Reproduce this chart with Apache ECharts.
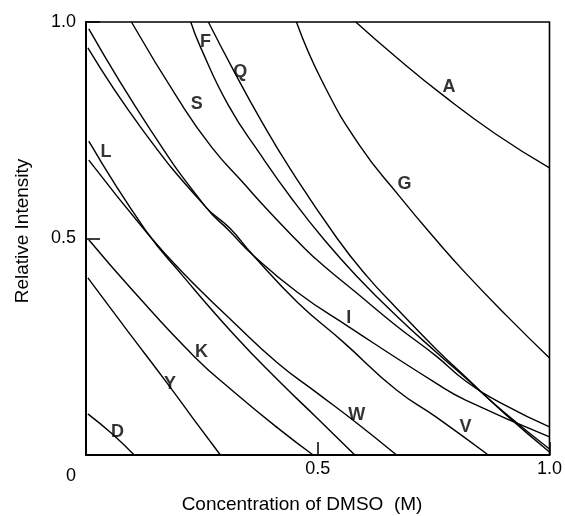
<!DOCTYPE html>
<html>
<head>
<meta charset="utf-8">
<script src="https://cdn.jsdelivr.net/npm/echarts@6/dist/echarts.min.js"></script>
<style>
html,body{margin:0;padding:0;background:#fff;}
#c{width:565px;height:516px;}
</style>
</head>
<body>
<div id="c"></div>
<script>
// Curves: [concentration (M), relative intensity]
const curveA = [[0.582,1.0],[0.670,0.918],[0.770,0.831],[0.883,0.742],[1.0,0.663]];
const curveG = [[0.454,1.0],[0.510,0.862],[0.591,0.714],[0.676,0.598],[0.755,0.497],[0.819,0.420],[0.910,0.319],[1.0,0.224]];
const curveQ = [[0.264,1.0],[0.318,0.889],[0.377,0.774],[0.441,0.660],[0.542,0.500],[0.606,0.413],[0.670,0.339],[0.755,0.245],[0.819,0.180],[0.904,0.095],[1.0,0.007]];
const curveF = [[0.226,1.0],[0.247,0.942],[0.307,0.808],[0.377,0.693],[0.446,0.589],[0.514,0.497],[0.584,0.413],[0.670,0.321],[0.755,0.238],[0.819,0.178],[0.904,0.097],[1.0,0.014]];
const curveS = [[0.098,1.0],[0.200,0.820],[0.271,0.711],[0.343,0.624],[0.392,0.566],[0.473,0.476],[0.514,0.436],[0.584,0.374],[0.670,0.298],[0.755,0.229],[0.819,0.171],[0.904,0.115],[1.0,0.065]];
const curveI = [[0.006,0.984],[0.139,0.751],[0.258,0.573],[0.310,0.517],[0.360,0.462],[0.456,0.376],[0.567,0.296],[0.755,0.166],[0.819,0.127],[1.0,0.042]];
const curveV = [[0.004,0.940],[0.122,0.751],[0.258,0.573],[0.310,0.524],[0.360,0.462],[0.456,0.353],[0.557,0.259],[0.670,0.150],[0.755,0.088],[0.868,0.0]];
const curveL = [[0.006,0.725],[0.128,0.520],[0.207,0.416],[0.320,0.277],[0.414,0.173],[0.499,0.085],[0.580,0.0]];
const curveW = [[0.006,0.681],[0.130,0.515],[0.207,0.423],[0.320,0.305],[0.414,0.212],[0.499,0.143],[0.584,0.074],[0.670,0.0]];
const curveK = [[0.006,0.497],[0.100,0.381],[0.235,0.226],[0.320,0.145],[0.414,0.062],[0.490,0.0]];
const curveY = [[0.004,0.409],[0.090,0.286],[0.173,0.169],[0.232,0.083],[0.290,0.0]];
const curveD = [[0.004,0.095],[0.055,0.050],[0.104,0.0]];

const curveNames = ['A','G','Q','F','S','I','V','L','W','K','Y','D'];
const curves = [curveA,curveG,curveQ,curveF,curveS,curveI,curveV,curveL,curveW,curveK,curveY,curveD];

// Curve labels: [text, x, y]
const curveLabels = [
  ['A',0.783,0.850],['G',0.687,0.626],['Q',0.333,0.885],['F',0.258,0.954],
  ['S',0.239,0.811],['L',0.043,0.700],['I',0.567,0.316],['K',0.249,0.238],
  ['Y',0.181,0.164],['D',0.068,0.053],['W',0.584,0.092],['V',0.819,0.065]
];

const xTicks = [0, 0.5, 1.0];
const yTicks = [0, 0.5, 1.0];
const xTitle = 'Concentration of DMSO  (M)';
const yTitle = 'Relative Intensity';

const FONT = 'Liberation Sans, Arial, Helvetica, sans-serif';

const chart = echarts.init(document.getElementById('c'), null, {renderer:'canvas'});

const series = curves.map((d,i)=>({
  name: curveNames[i],
  type: 'line',
  data: d,
  smooth: 0.5,
  showSymbol: false,
  symbol: 'none',
  lineStyle: {color:'#000', width:1.4},
  silent: true,
  z: 3
}));

series.push({
  type: 'scatter',
  data: curveLabels.map(l=>({name:l[0], value:[l[1], l[2]]})),
  symbolSize: 0,
  silent: true,
  label: {
    show: true,
    position: 'inside',
    formatter: p => p.name,
    color: '#000',
    fontWeight: 'bold',
    fontSize: 18,
    fontFamily: FONT
  },
  z: 5
});

chart.setOption({
  animation: false,
  backgroundColor: '#fff',
  grid: {left:86, top:22, right:10, bottom:61, show:true, borderColor:'#000', borderWidth:1.6, containLabel:false},
  xAxis: {
    type:'value', min: xTicks[0], max: xTicks[xTicks.length-1], interval: 0.5,
    axisLine:{show:true, onZero:false, lineStyle:{color:'#000', width:2}},
    axisTick:{show:true, inside:true, length:13, lineStyle:{color:'#000', width:1.5}},
    axisLabel:{margin:5, fontSize:18, color:'#000', fontFamily:FONT,
      formatter: v => (v===0 ? '' : v.toFixed(1))},
    splitLine:{show:false}
  },
  yAxis: {
    type:'value', min: yTicks[0], max: yTicks[yTicks.length-1], interval: 0.5,
    axisLine:{show:true, onZero:false, lineStyle:{color:'#000', width:2}},
    axisTick:{show:true, inside:true, length:14, lineStyle:{color:'#000', width:1.5}},
    axisLabel:{margin:10, fontSize:18, color:'#000', fontFamily:FONT,
      formatter: v => (v===0 ? '' : v.toFixed(1))},
    splitLine:{show:false}
  },
  graphic: [
    {type:'text', x:71, y:476, style:{text:'0', fontSize:18, fontFamily:FONT, fill:'#000', align:'center', verticalAlign:'middle'}},
    {type:'text', x:302, y:505, style:{text:xTitle, fontSize:19, fontFamily:FONT, fill:'#000', align:'center', verticalAlign:'middle'}},
    {type:'text', x:23, y:231, rotation:Math.PI/2, style:{text:yTitle, fontSize:19, fontFamily:FONT, fill:'#000', align:'center', verticalAlign:'middle'}}
  ],
  series: series
});
</script>
</body>
</html>
